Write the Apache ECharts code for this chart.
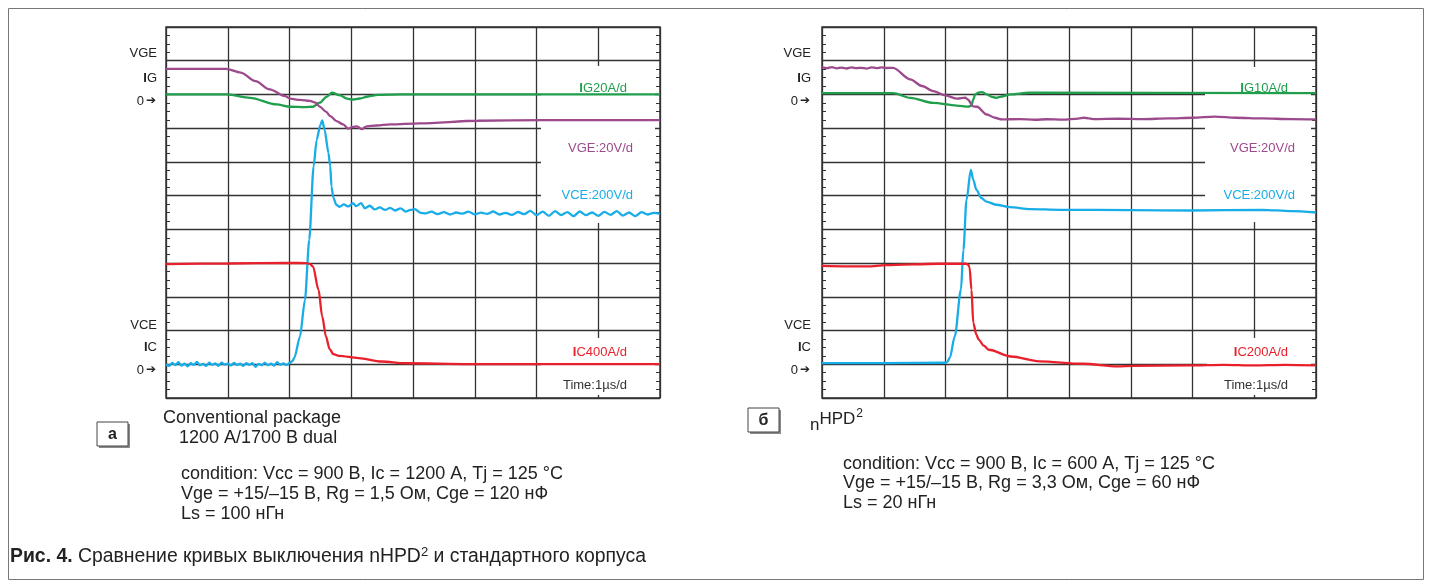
<!DOCTYPE html>
<html>
<head>
<meta charset="utf-8">
<script src="https://cdn.jsdelivr.net/npm/echarts@6/dist/echarts.min.js"></script>
<style>
html,body{margin:0;padding:0;background:#fff;}
#chart{width:1432px;height:584px;}
</style>
</head>
<body>
<div id="chart"></div>
<script>
// ---------- DATA (time in µs, values in physical units) ----------
// Panel а : conventional package
const igA = [[0,0],[0.99,0],[1.36,-2.0],[1.79,-5.9],[2.01,-7.3],[2.25,-7.5],[2.38,-7.3],[2.49,-4.9],[2.60,-1.4],[2.69,1.0],[2.82,-0.6],[2.93,-2.5],[3.01,-3.0],[3.14,-2.4],[3.27,-1.2],[3.43,-0.3],[3.79,0],[8,0]];
const vgeA = [[0,15.2],[0.97,15.2],[1.21,13.0],[1.45,7.9],[1.68,3.0],[1.93,-1.0],[2.01,-2.5],[2.17,-3.2],[2.33,-3.8],[2.42,-4.8],[2.49,-7.2],[2.59,-10.2],[2.66,-12.8],[2.76,-15.8],[2.87,-17.8],[2.95,-20.3],[3.03,-19.2],[3.09,-18.9],[3.17,-20.6],[3.25,-18.9],[3.41,-18.4],[3.63,-17.8],[4.11,-17.2],[5.05,-15.6],[6.12,-15.2],[8,-15.2]];
const vceA = [[0,0],[0.05,-10],[0.1,8],[0.15,-5],[0.2,12],[0.25,-8],[0.3,3],[0.35,-12],[0.4,6],[0.45,-4],[0.5,14],[0.55,-6],[0.6,2],[0.65,-10],[0.7,9],[0.75,-3],[0.8,5],[0.85,-9],[0.9,10],[0.95,-2],[1.0,4],[1.05,-7],[1.1,8],[1.15,-4],[1.2,3],[1.25,-9],[1.3,6],[1.35,-3],[1.4,7],[1.45,-15],[1.5,2],[1.55,-6],[1.6,9],[1.65,-5],[1.7,4],[1.75,-8],[1.8,12],[1.85,-3],[1.9,5],[1.95,-4],[2.01,9],[2.05,20],[2.08,39],[2.17,165],[2.25,382],[2.32,738],[2.39,1173],[2.44,1331],[2.50,1420],[2.53,1446],[2.57,1388],[2.63,1254],[2.66,1173],[2.68,1054],[2.71,987],[2.76,945],[2.81,934],[2.88,948],[2.95,936],[3.03,955],[3.08,938],[3.16,956],[3.22,925],[3.3,940],[3.38,918],[3.46,930],[3.55,915],[3.63,928],[3.71,912],[3.8,925],[3.88,905],[3.96,915],[4.03,920],[4.12,898],[4.2,895],[4.3,905],[4.4,890],[4.5,902],[4.6,888],[4.7,900],[4.8,893],[4.9,905],[5.0,889],[5.1,899],[5.2,892],[5.3,906],[5.4,888],[5.5,898],[5.6,886],[5.7,903],[5.8,890],[5.9,910],[6.0,884],[6.1,905],[6.2,880],[6.3,908],[6.4,885],[6.5,902],[6.6,878],[6.7,906],[6.8,884],[6.9,900],[7.0,880],[7.1,904],[7.2,886],[7.3,908],[7.4,882],[7.5,900],[7.6,878],[7.7,902],[7.8,888],[7.9,898],[8.0,892]];
const icA = [[0,1188],[1,1195],[2.01,1202],[2.26,1200],[2.33,1190],[2.38,1160],[2.47,884],[2.53,567],[2.59,330],[2.65,180],[2.71,120],[2.80,100],[3.12,74],[3.49,33],[3.88,12],[4.92,2],[8,2]];

// Panel б : nHPD2
const igB = [[0,0.4],[1.15,0.4],[1.43,-1.0],[1.80,-2.5],[2.18,-3.3],[2.37,-3.6],[2.42,-3.3],[2.45,-1.5],[2.48,0],[2.53,0.5],[2.59,0.7],[2.67,0],[2.75,-0.7],[2.83,-1.0],[2.88,-0.7],[3.06,0],[3.35,0.5],[8,0.4]];
const vgeB = [[0,16.0],[0.08,15.6],[0.16,16.2],[0.24,15.5],[0.32,15.9],[0.4,15.4],[0.48,16.0],[0.56,15.6],[0.64,15.8],[0.72,15.3],[0.8,16.1],[0.88,15.6],[0.96,16.0],[1.04,15.7],[1.15,15.8],[1.43,8.9],[1.62,5.0],[1.80,2.0],[2.0,-0.6],[2.19,-2.5],[2.32,-1.9],[2.36,-3.0],[2.45,-7.1],[2.51,-7.3],[2.67,-11.9],[2.80,-13.8],[2.91,-14.8],[3.2,-14.6],[3.45,-15.0],[3.64,-14.7],[3.9,-14.9],[4.15,-14.3],[4.24,-13.8],[4.4,-14.6],[4.79,-14.4],[5.2,-14.6],[5.61,-14.2],[6.0,-13.8],[6.36,-13.2],[6.7,-13.8],[7.13,-14.2],[7.6,-14.6],[8,-14.8]];
const vceB = [[0,7],[1,7],[2.0,9],[2.03,14],[2.07,39],[2.15,165],[2.25,442],[2.29,679],[2.34,975],[2.41,1153],[2.45,1094],[2.50,1035],[2.58,986],[2.66,965],[2.82,946],[3.04,932],[3.37,920],[3.85,916],[5.0,914],[5.96,912],[7.13,916],[7.6,908],[8,900]];
const icB = [[0,584],[0.74,580],[1.03,588],[1.89,596],[2.33,596],[2.37,590],[2.39,575],[2.42,442],[2.45,246],[2.50,175],[2.54,145],[2.62,110],[2.70,86],[3.06,46],[3.52,17],[4.22,3],[4.79,-13],[5.03,-9],[5.96,-7],[6.5,-3],[7.0,-7],[7.5,-4],[8,-7]];

// volts/amps per division for each channel
const scalesA = {ig:20, vge:20, vce:200, ic:400};
const scalesB = {ig:10, vge:20, vce:200, ic:200};
const chLabelsA = ['IG20A/d','VGE:20V/d','VCE:200V/d','IC400A/d','Time:1µs/d'];
const chLabelsB = ['IG10A/d','VGE:20V/d','VCE:200V/d','IC200A/d','Time:1µs/d'];
const sideLabels = ['VGE','IG','0','VCE','IC','0'];
const divsX = 8, divsY = 11;

// ---------- CHART ----------
const C = {ig:'#1f9f4c', vge:'#9d4a8c', vce:'#19ade8', ic:'#e8202b', txt:'#333'};
const FONT = '"Liberation Sans", Arial, sans-serif';
const chart = echarts.init(document.getElementById('chart'), null, {renderer:'canvas'});

const grids = [
  {left:166, top:27, width:494, height:371, show:true, borderColor:'#2b2b2b', borderWidth:1.4},
  {left:822, top:27, width:494, height:371, show:true, borderColor:'#2b2b2b', borderWidth:1.4}
];
const gridLine = {show:true, lineStyle:{color:'#333', width:1.3}};
const xAxes = [0,1].map(g => ({type:'value', gridIndex:g, min:0, max:divsX, interval:1,
  axisLine:{show:false}, axisTick:{show:false}, axisLabel:{show:false}, splitLine:gridLine}));
const yAxes = [];
function addY(g, scales){
  const base = yAxes.length;
  yAxes.push({type:'value', gridIndex:g, min:0, max:divsY, interval:1, position:'left',
    axisLine:{show:false}, axisTick:{show:true, inside:true, length:4, lineStyle:{color:'#333'}},
    minorTick:{show:true, splitNumber:4, length:4, lineStyle:{color:'#333', width:1}},
    axisLabel:{show:false}, splitLine:gridLine});
  yAxes.push({type:'value', gridIndex:g, min:0, max:divsY, interval:1, position:'right',
    axisLine:{show:false}, axisTick:{show:true, inside:true, length:4, lineStyle:{color:'#333'}},
    minorTick:{show:true, splitNumber:4, length:4, lineStyle:{color:'#333', width:1}},
    axisLabel:{show:false}, splitLine:{show:false}});
  // gate channels: zero two divisions below top; collector channels: zero one division above bottom
  ['ig','vge'].forEach(k => yAxes.push({type:'value', gridIndex:g, show:false, min:-9*scales[k], max:2*scales[k], splitLine:{show:false}}));
  ['vce','ic'].forEach(k => yAxes.push({type:'value', gridIndex:g, show:false, min:-1*scales[k], max:10*scales[k], splitLine:{show:false}}));
  return {ig:base+2, vge:base+3, vce:base+4, ic:base+5};
}
const axA = addY(0, scalesA);
const axB = addY(1, scalesB);

function line(data, g, yIdx, color, smooth){
  return {type:'line', xAxisIndex:g, yAxisIndex:yIdx, data:data, showSymbol:false, smooth:smooth, smoothMonotone:'x',
    lineStyle:{color:color, width:2.3}, z:3, silent:true};
}
const series = [
  line(igA,0,axA.ig,C.ig,0.3), line(vgeA,0,axA.vge,C.vge,0.3), line(vceA,0,axA.vce,C.vce,0.25), line(icA,0,axA.ic,C.ic,0.3),
  line(igB,1,axB.ig,C.ig,0.3), line(vgeB,1,axB.vge,C.vge,0.3), line(vceB,1,axB.vce,C.vce,0.3), line(icB,1,axB.ic,C.ic,0.3)
];

// ---------- graphic decorations ----------
const G = [];
function txt(x,y,text,opt){
  opt = opt || {};
  G.push({type:'text', x:x, y:y, z:10, scaleX:opt.scaleX||1, silent:true,
    style:Object.assign({text:text, fill:opt.fill||'#222', font:(opt.weight||'normal')+' '+(opt.size||13)+'px '+FONT,
      textAlign:opt.align||'left', textVerticalAlign:'middle'}, opt.rich?{rich:opt.rich}:{})});
}
function rect(x,y,w,h,fill){
  G.push({type:'rect', shape:{x:x,y:y,width:w,height:h}, z:1, silent:true, style:{fill:fill||'#fff'}});
}
// white label boxes over the grid
rect(541,66,114,157,'#fff'); rect(541,338,114,57,'#fff');
rect(1205,67,106,155,'#fff'); rect(1207,338,104,57,'#fff');

// in-plot channel labels (leading "I" drawn bold as in the scope legend)
function chLabels(labels, r1, r2){
  const cols=[C.ig,C.vge,C.vce,C.ic,C.txt], ys=[88,148,195,352,385], rs=[r1,r2,r2,r1,r1];
  labels.forEach((l,i)=>{
    if(l[0]==='I'){
      txt(rs[i], ys[i], '{b|I}{r|'+l.slice(1)+'}', {align:'right', rich:{
        b:{font:'bold 13px '+FONT, fill:cols[i]}, r:{font:'13px '+FONT, fill:cols[i]}}});
    } else txt(rs[i], ys[i], l, {fill:cols[i], align:'right', size:13});
  });
}
chLabels(chLabelsA, 627, 633);
chLabels(chLabelsB, 1288, 1295);

// side labels
function side(xr){
  const ys=[53,78,101,325,347,370];
  sideLabels.forEach((l,i)=>{
    if(l==='0') txt(xr-1, ys[i], '{a|0}{b|➔}', {align:'right', rich:{a:{font:'13px '+FONT, fill:'#222'}, b:{font:'12px "DejaVu Sans"', fill:'#222', padding:[0,0,0,2]}}});
    else if(l[0]==='I') txt(xr, ys[i], '{b|I}{r|'+l.slice(1)+'}', {align:'right', rich:{b:{font:'bold 13px '+FONT, fill:'#222'}, r:{font:'13px '+FONT, fill:'#222'}}});
    else txt(xr, ys[i], l, {align:'right', size:13});
  });
}
side(157); side(811);

// panel captions
function letterBox(x,y,ch){
  G.push({type:'rect', shape:{x:x+2,y:y+2,width:31,height:24}, z:1, silent:true, style:{fill:'#8a8a8a'}});
  G.push({type:'rect', shape:{x:x,y:y,width:31,height:24}, z:2, silent:true, style:{fill:'#fff', stroke:'#444', lineWidth:1}});
  txt(x+15.5, y+12.5, ch, {align:'center', size:16, weight:'bold', fill:'#222'});
}
letterBox(97,422,'а');
letterBox(748,408,'б');

txt(163,418,'Conventional package',{size:18});
txt(179,438,'1200 A/1700 B dual',{size:18});
['condition: Vcc = 900 B, Ic = 1200 A, Tj = 125 °C','Vge = +15/–15 B, Rg = 1,5 Ом, Cge = 120 нФ','Ls = 100 нГн']
  .forEach((s,i)=>txt(181, 474+20*i, s, {size:18}));
txt(810,419,'{n|n}{m|HPD}{s|2}',{size:18, rich:{n:{font:'17px '+FONT, fill:'#222', padding:[12,0,0,0]}, m:{font:'17px '+FONT, fill:'#222'}, s:{font:'12px '+FONT, fill:'#222', padding:[0,0,11,1]}}});
['condition: Vcc = 900 B, Ic = 600 A, Tj = 125 °C','Vge = +15/–15 B, Rg = 3,3 Ом, Cge = 60 нФ','Ls = 20 нГн']
  .forEach((s,i)=>txt(843, 464+19.5*i, s, {size:18}));

txt(10,557,'{b|Рис. 4.} Сравнение кривых выключения nHPD{s|2} и стандартного корпуса',
  {size:19.4, rich:{b:{font:'bold 19.4px '+FONT, fill:'#222'}, s:{font:'13px '+FONT, fill:'#222', padding:[0,0,9,0]}}});

// figure frame
G.push({type:'rect', shape:{x:8.5,y:8.5,width:1415,height:571}, z:0, silent:true, style:{fill:null, stroke:'#777', lineWidth:1}});

chart.setOption({
  animation:false,
  backgroundColor:'#fff',
  grid:grids, xAxis:xAxes, yAxis:yAxes, series:series,
  graphic:{elements:G}
});
</script>
</body>
</html>
